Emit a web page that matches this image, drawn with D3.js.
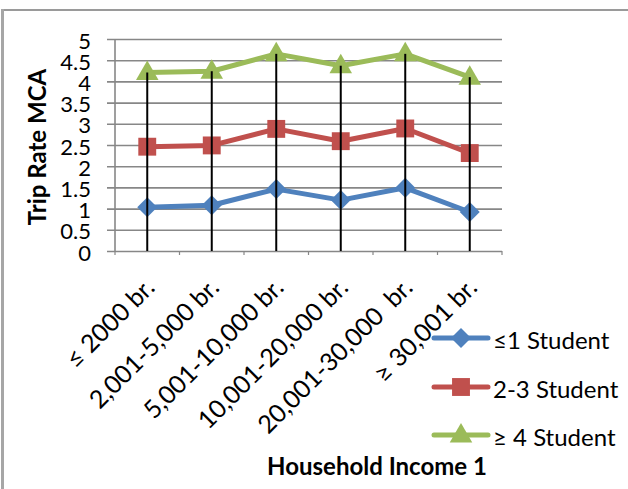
<!DOCTYPE html>
<html><head><meta charset="utf-8">
<script src="https://cdn.jsdelivr.net/npm/d3@7"></script>
<style>
html,body{margin:0;padding:0;background:#fff;}
svg{display:block;font-family:Lato,"Open Sans",sans-serif;}
</style></head>
<body>
<svg id="chart" width="628" height="489"></svg>
<script>
const categories = ["≤ 2000 br.", "2,001-5,000 br.", "5,001-10,000 br.", "10,001-20,000 br.", "20,001-30,000  br.", "≥ 30,001 br."];
const seriesNames = ["≤1 Student", "2-3 Student", "≥ 4 Student"];
const oneStudent = [1.03, 1.08, 1.46, 1.20, 1.49, 0.92];
const twoThreeStudent = [2.46, 2.49, 2.88, 2.59, 2.89, 2.31];
const fourStudent = [4.21, 4.24, 4.65, 4.37, 4.65, 4.10];
const yTicks = [0, 0.5, 1, 1.5, 2, 2.5, 3, 3.5, 4, 4.5, 5];
const colors = ["#4F81BD", "#C0504D", "#9BBB59"];

const squareDiamond = {
  draw(ctx, size) {
    const r = Math.sqrt(size) / Math.SQRT2;
    ctx.moveTo(0, -r); ctx.lineTo(r, 0); ctx.lineTo(0, r); ctx.lineTo(-r, 0); ctx.closePath();
  }
};
const symbols = [squareDiamond, d3.symbolSquare, d3.symbolTriangle];
const markerSize = [200, 320, 220];

const series = [oneStudent, twoThreeStudent, fourStudent];
const svg = d3.select("#chart");

// outer chart border (partially visible)
svg.append("line").attr("x1", 2).attr("x2", 628).attr("y1", 10).attr("y2", 10)
  .attr("stroke", "#9a9a9a").attr("stroke-width", 2);
svg.append("line").attr("x1", 2.5).attr("x2", 2.5).attr("y1", 9).attr("y2", 489)
  .attr("stroke", "#a6a6a6").attr("stroke-width", 3);

const plot = {left: 115, right: 502, top: 39, bottom: 251};
const x = d3.scaleBand().domain(categories).range([plot.left, plot.right]);
const y = d3.scaleLinear().domain([0, 5]).range([plot.bottom, plot.top]);
const cx = c => x(c) + x.bandwidth() / 2;

// gridlines
const yAxis = d3.axisLeft(y).tickValues(yTicks).tickSize(-(plot.right - plot.left)).tickPadding(0).tickFormat("");
const gy = svg.append("g").attr("transform", `translate(${plot.left},0)`).call(yAxis);
gy.select(".domain").remove();
gy.selectAll(".tick line").attr("stroke", "#878787").attr("stroke-width", 1.6).attr("x1", -8);
// left axis
svg.append("line").attr("x1", plot.left).attr("x2", plot.left).attr("y1", plot.top).attr("y2", plot.bottom)
  .attr("stroke", "#878787").attr("stroke-width", 1.6);

// y tick labels
svg.append("g").selectAll("text").data(yTicks).join("text")
  .attr("x", 91).attr("y", d => y(d) + 1).attr("text-anchor", "end")
  .attr("dominant-baseline", "central").attr("font-size", 22).attr("fill", "#000")
  .text(d => d3.format("")(d));

// x ticks (small marks below axis)
svg.append("g").selectAll("line").data(d3.range(categories.length + 1)).join("line")
  .attr("x1", i => plot.left + i * x.step()).attr("x2", i => plot.left + i * x.step())
  .attr("y1", plot.bottom).attr("y2", plot.bottom + 4).attr("stroke", "#878787").attr("stroke-width", 1.2);

// x labels
svg.append("g").selectAll("text").data(categories).join("text")
  .attr("transform", d => `translate(${cx(d) + 9},${plot.bottom + 38}) rotate(-45)`)
  .attr("text-anchor", "end").attr("font-size", 25).attr("fill", "#000")
  .attr("xml:space", "preserve").style("white-space", "pre")
  .text(d => d);

// lines + markers
const line = d3.line().x((d, i) => cx(categories[i])).y(d => y(d));
series.forEach((s, k) => {
  svg.append("path").datum(s).attr("d", line).attr("fill", "none")
    .attr("stroke", colors[k]).attr("stroke-width", 5).attr("stroke-linejoin", "round");
});
series.forEach((s, k) => {
  svg.append("g").selectAll("path").data(s).join("path")
    .attr("transform", (d, i) => `translate(${cx(categories[i])},${y(d) + (k === 2 ? 1 : 0)})`)
    .attr("d", d3.symbol().type(symbols[k]).size(markerSize[k])())
    .attr("fill", colors[k]);
});
// drop lines (drawn over markers, as in the reference)
svg.append("g").selectAll("line").data(categories).join("line")
  .attr("x1", d => cx(d)).attr("x2", d => cx(d))
  .attr("y1", (d, i) => y(d3.max(series, s => s[i]))).attr("y2", plot.bottom)
  .attr("stroke", "#000").attr("stroke-width", 2);

// legend
const legendY = [338, 387, 435];
const lg = svg.append("g");
seriesNames.forEach((name, k) => {
  lg.append("line").attr("x1", 434).attr("x2", 488).attr("y1", legendY[k]).attr("y2", legendY[k])
    .attr("stroke", colors[k]).attr("stroke-width", 5).attr("stroke-linecap", "round");
  lg.append("path").attr("transform", `translate(461,${legendY[k] + (k === 2 ? 1 : 0)})`)
    .attr("d", d3.symbol().type(symbols[k]).size(markerSize[k])()).attr("fill", colors[k]);
  lg.append("text").attr("x", 493).attr("y", legendY[k] + 1).attr("dominant-baseline", "central")
    .attr("font-size", 24).attr("fill", "#000").text(name);
});

// axis titles
svg.append("text").attr("transform", `translate(36,147) rotate(-90)`)
  .attr("text-anchor", "middle").attr("dominant-baseline", "central")
  .attr("font-size", 24).attr("font-weight", "bold").attr("fill", "#000").text("Trip Rate MCA");
svg.append("text").attr("x", 377).attr("y", 475).attr("text-anchor", "middle")
  .attr("font-size", 24).attr("font-weight", "bold").attr("fill", "#000").text("Household Income 1");
</script>
</body></html>
